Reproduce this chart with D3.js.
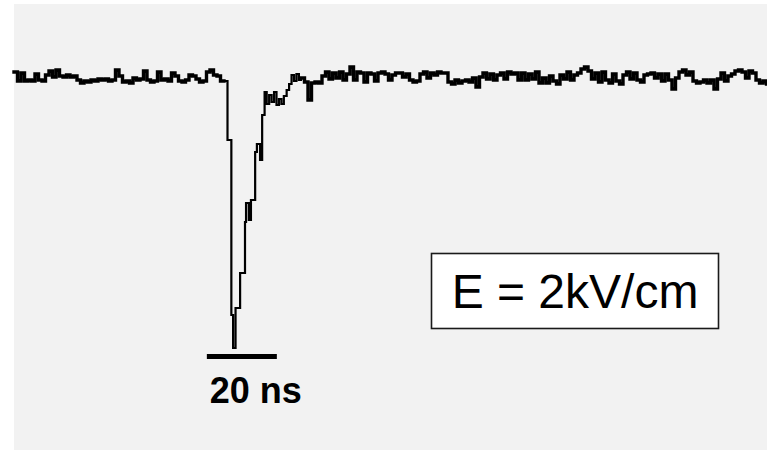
<!DOCTYPE html>
<html>
<head>
<meta charset="utf-8">
<script src="https://cdn.jsdelivr.net/npm/d3@7"></script>
<style>
  html, body { margin: 0; padding: 0; background: #ffffff; }
  svg { display: block; }
</style>
</head>
<body>
<svg id="chart" width="767" height="450"></svg>
<script>
// Oscilloscope trace of a single detector pulse (signal in mV, time in ns).
// Baseline before the pulse, sampled every 1 ns from t = 0 ns.
const preSignal = [
  3, -1.5, 2.5, -1.5, -1, -1.5, 2, -1, -1.5, 1.5,
  3.5, 0.5, 4, 1, 0.5, 1.5, 0.5, 1, -1, -2.5,
  -1.5, -2, -1, -1.5, -0.5, -1, -0.5, -1.5, -1, 4,
  1, -2, -1.5, -2.5, 0, -1, -0.5, 3.5, -1, -2,
  -1.5, 3, -1, -0.5, -1.5, 2.5, 1, -1.5, -2, -1,
  1.5, 1, -0.5, -2, -1.5, 3, 4, 1.5, 1, -1.5,
  -1.5
];
const preStartNs = 0;

// The pulse itself, at the instants where the digitised level changes.
const pulseTimeNs = [
  61.0, 62.1, 62.6, 63.3, 64.6, 66.0, 66.3, 67.1, 67.7, 68.9,
  69.4, 70.3, 70.9, 71.6, 72.2, 72.9, 73.6, 74.3, 75.0, 75.7,
  76.4, 77.1, 77.9, 78.6, 79.3, 80.0, 80.7, 81.4
];
const pulseSignal = [
  -31, -118.5, -135, -115, -97.5, -72, -62.5, -71, -61, -37,
  -33, -41, -18.5, -7, -13, -8.5, -12, -7, -13.5, -10.5,
  -13, -9, -6, -3, 1.5, -1.5, 2, -1
];

// Baseline after the pulse, sampled every 1 ns from t = 82 ns.
const postSignal = [
  0, -2, -11, -2.5, -2, -2.5, 1, 3, -0.5, 2.5,
  0, 3, -1, 2, 5.5, -1, 3, 2.5, -2, 2.5,
  2, -1.5, 2.5, 3, 2, -1, 1.5, 2.5, 2.5, 0.5,
  2, -1, -2, -1.5, 2, 3, 0, 2.5, 1.5, 3,
  2.5, 2.5, -2, -3, -1, -2.5, -1.5, -1, -2, 0,
  -4.5, 0.5, 2.5, -0.5, 2, -1, 1.5, 2.5, -0.5, 3,
  2, 2.5, -1, 2.5, -1, 2, -0.5, 3, -2.5, 0,
  -2.5, 1, -1.5, -3, 1.5, -0.5, 3, -1, 1.5, 2.5,
  4.5, 5.5, 3.5, -0.5, 2.5, -2, 3, -1, -2.5, 2,
  -1.5, -3, 1.5, 3, -0.5, 2.5, -1, -2, 1.5, 2,
  2.5, 0, 2, -1.5, 2, -1, -5.5, 0, 3, 4,
  1.5, 3, -1.5, -2.5, -2, -1, -2.5, -1, -5.5, -0.5,
  2.5, -1.5, 1, 2, 3.5, 4, 3, 0, 3.5, 2.5,
  -1, -2.5, -1.5, -3
];
const postStartNs = 82;
const sampleStepNs = 1;

// Annotations
const scaleBarNs = 20;
const scaleBarStartNs = 55.1;
const scaleBarLabel = "20 ns";
const fieldLabel = "E = 2kV/cm";

// [time, value] pairs for each part of the record
const prePts = preSignal.map((v, i) => [preStartNs + i * sampleStepNs, v]);
const pulsePts = pulseSignal.map((v, i) => [pulseTimeNs[i], v]);
const postPts = postSignal.map((v, i) => [postStartNs + i * sampleStepNs, v]);

const svg = d3.select("#chart");
const W = 767, H = 450;

// Screen background panel
svg.append("rect")
  .attr("x", 14).attr("y", 4)
  .attr("width", W - 14).attr("height", H - 4)
  .attr("fill", "#f2f2f2");

const x = d3.scaleLinear().domain([0, 215]).range([14, 766.5]);
const y = d3.scaleLinear().domain([0, -135]).range([78, 348]);

const line = d3.line()
  .x(d => x(d[0]))
  .y(d => y(d[1]))
  .curve(d3.curveStepAfter);

// The noisy baseline is drawn heavier; the fast pulse edges thinner.
const segments = [
  { pts: prePts, w: 3.4 },
  { pts: [prePts[prePts.length - 1], ...pulsePts, postPts[0]], w: 2.2 },
  { pts: postPts, w: 3.4 }
];

svg.append("g")
  .selectAll("path")
  .data(segments)
  .join("path")
  .attr("d", d => line(d.pts))
  .attr("fill", "none")
  .attr("stroke", "#000")
  .attr("stroke-width", d => d.w)
  .attr("stroke-linejoin", "miter")
  .attr("stroke-linecap", "square");

// Time scale bar
svg.append("line")
  .attr("x1", x(scaleBarStartNs))
  .attr("x2", x(scaleBarStartNs + scaleBarNs))
  .attr("y1", 356.5).attr("y2", 356.5)
  .attr("stroke", "#000")
  .attr("stroke-width", 5);

svg.append("text")
  .attr("x", (x(scaleBarStartNs) + x(scaleBarStartNs + scaleBarNs)) / 2 + 14)
  .attr("y", 403)
  .attr("text-anchor", "middle")
  .attr("font-family", "'Liberation Sans', Arial, sans-serif")
  .attr("font-weight", "bold")
  .attr("font-size", 36)
  .attr("fill", "#000")
  .text(scaleBarLabel);

// Field strength label in a box
const box = svg.append("g");
box.append("rect")
  .attr("x", 431.5).attr("y", 253.5)
  .attr("width", 287).attr("height", 75)
  .attr("fill", "#ffffff")
  .attr("stroke", "#1a1a1a")
  .attr("stroke-width", 1.6);
box.append("text")
  .attr("x", 575)
  .attr("y", 308)
  .attr("text-anchor", "middle")
  .attr("font-family", "'Liberation Sans', Arial, sans-serif")
  .attr("font-size", 48)
  .attr("fill", "#000")
  .text(fieldLabel);
</script>
</body>
</html>
